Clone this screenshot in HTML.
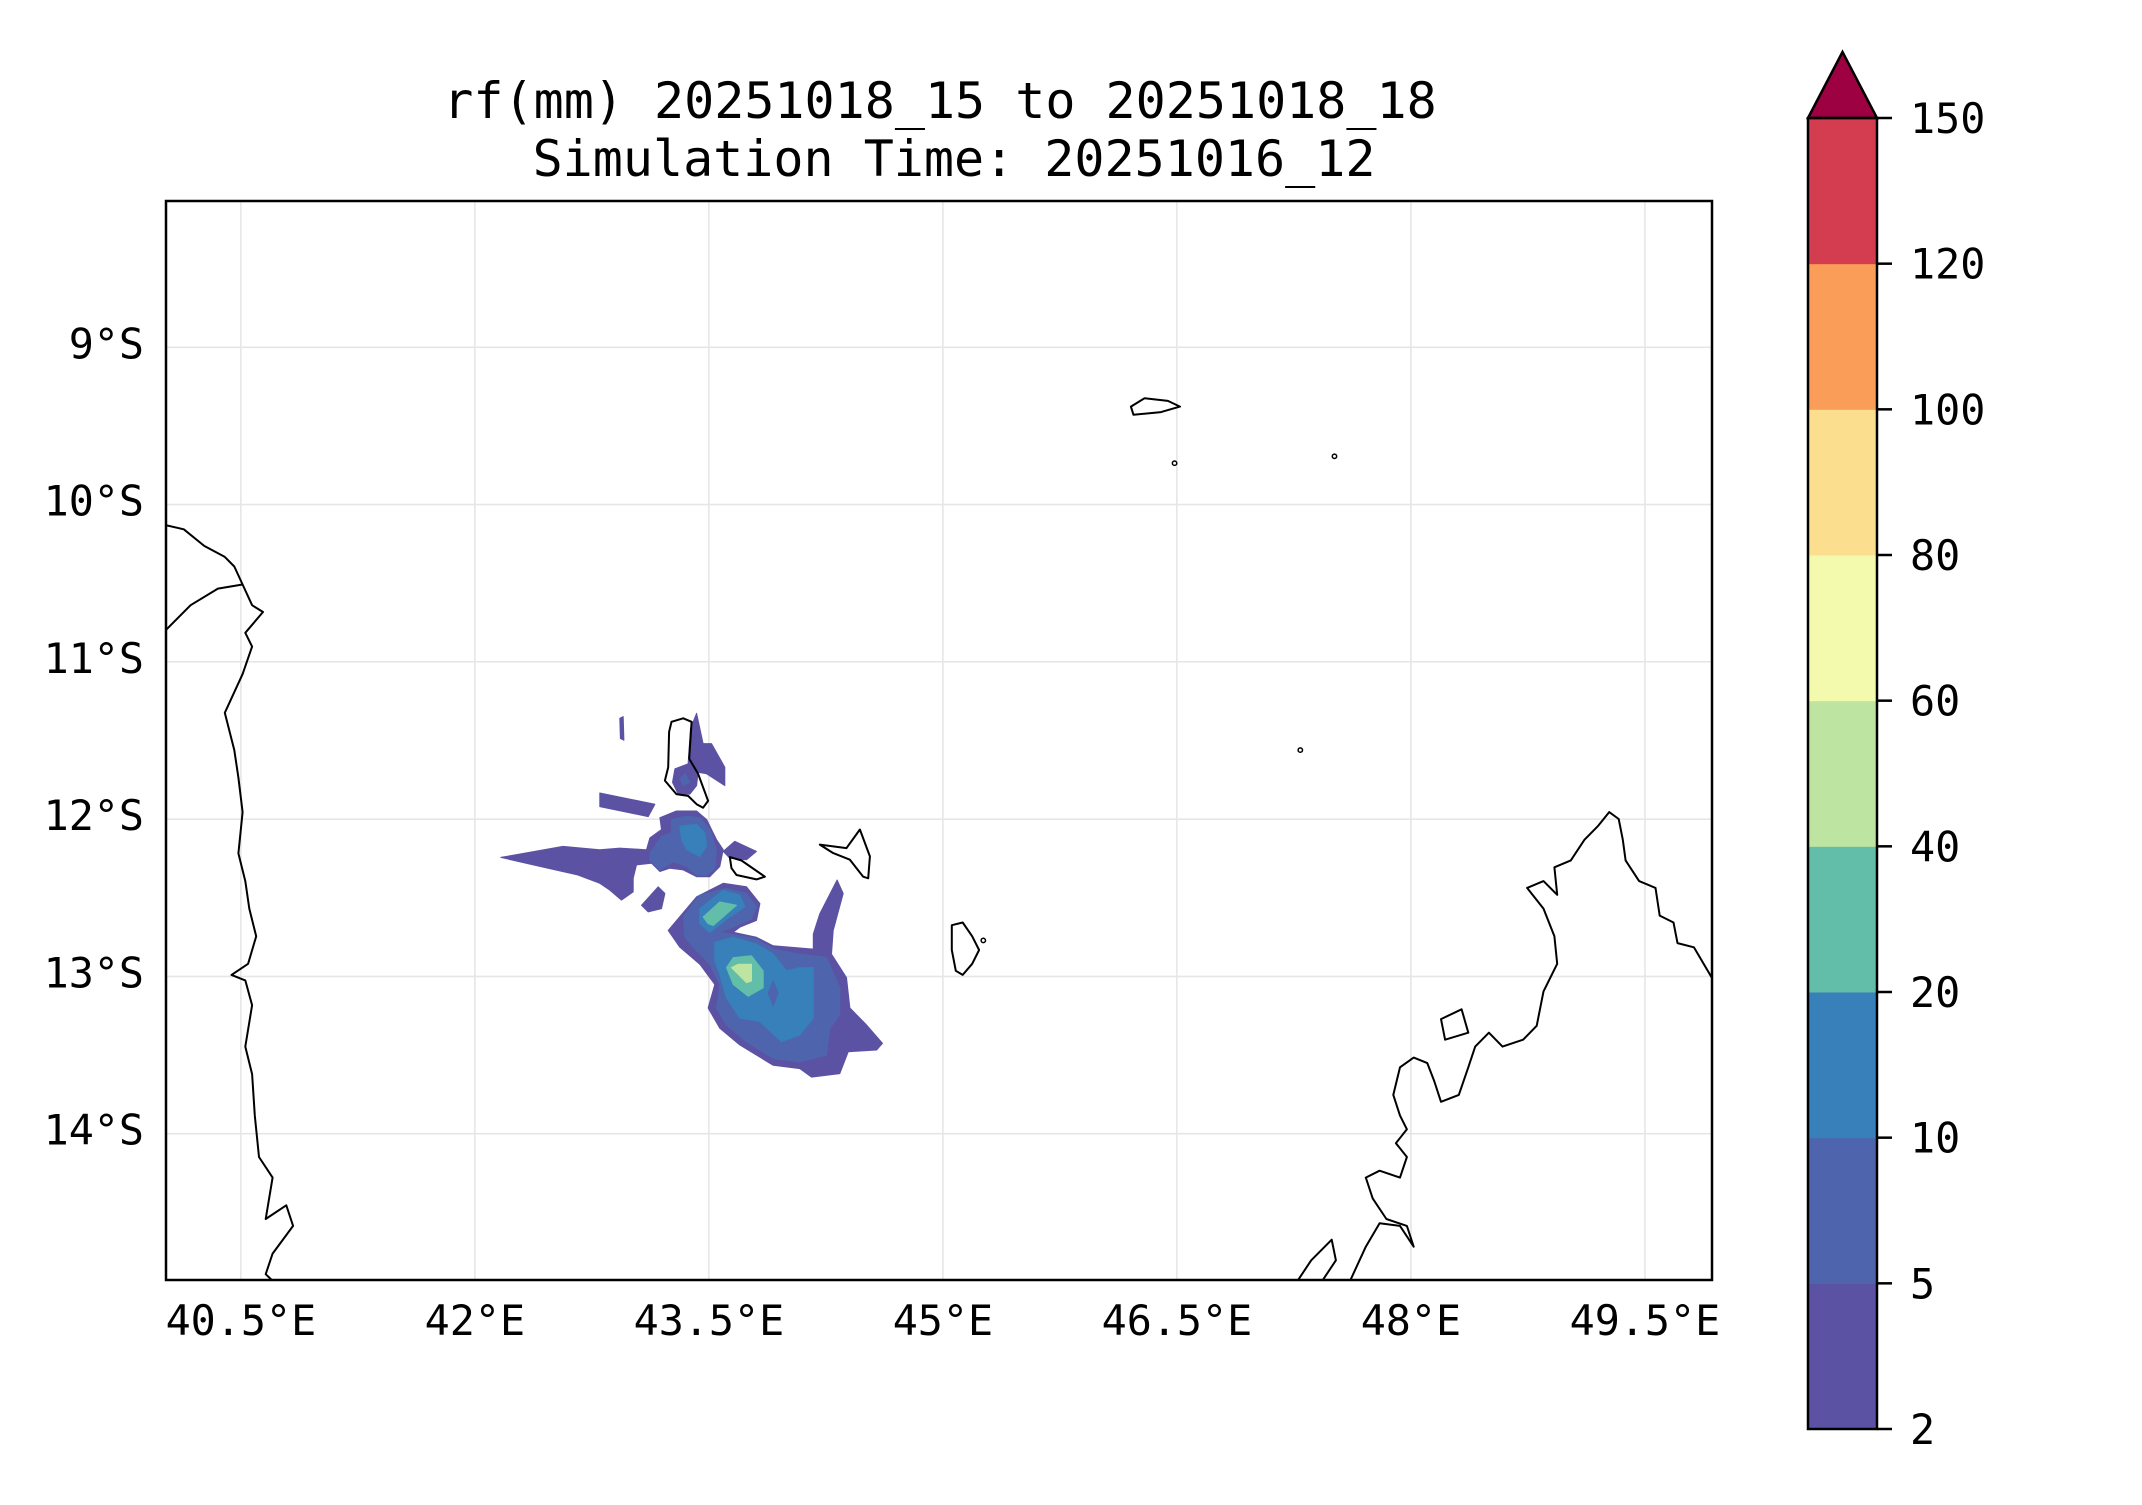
<!DOCTYPE html>
<html><head><meta charset="utf-8"><style>
html,body{margin:0;padding:0;background:#fff}
svg text{font-family:"DejaVu Sans Mono","Liberation Mono",monospace;fill:#000}
</style></head><body>
<svg id="chart" width="2142" height="1500" viewBox="0 0 2142 1500" xmlns="http://www.w3.org/2000/svg">
<defs><clipPath id="clip"><rect x="166" y="201" width="1546" height="1079"/></clipPath></defs>
<text x="940" y="118" font-size="50" text-anchor="middle">rf(mm) 20251018_15 to 20251018_18</text>
<text x="954" y="176" font-size="50" text-anchor="middle">Simulation Time: 20251016_12</text>
<g id="grid"></g>
<g id="fills" clip-path="url(#clip)"></g>
<g id="coast" clip-path="url(#clip)"></g>
<rect x="166" y="201" width="1546" height="1079" fill="none" stroke="#000" stroke-width="2.5"/>
<g id="xticks"></g>
<g id="yticks"></g>
<g id="cbar"></g>
</svg>
<script>
const lonTicks=[40.5,42,43.5,45,46.5,48,49.5];
const latTicks=[9,10,11,12,13,14];
const levels=[2,5,10,20,40,60,80,100,120,150];
const levelColors=["#5b52a3","#4e65ad","#3780b9","#62bda9","#bde4a0","#f3faad","#fcdf8e","#f99d59","#d43d4f"];
const extendColor="#9e0142";
// contour polygons [level index, [[lon,lat],...]]
const contourLevel=[0,0,0,0,0,0,0,1,1,1,2,2,2,1,3,3,4];
const contourPolys=[
[[43.239,-12.708],[43.421,-12.494],[43.592,-12.408],[43.741,-12.430],[43.827,-12.537],[43.805,-12.644],[43.698,-12.687],[43.656,-12.719],[43.805,-12.751],[43.912,-12.805],[44.169,-12.826],[44.169,-12.730],[44.211,-12.601],[44.322,-12.387],[44.361,-12.473],[44.297,-12.708],[44.286,-12.858],[44.382,-13.008],[44.404,-13.201],[44.510,-13.308],[44.613,-13.425],[44.575,-13.468],[44.393,-13.479],[44.339,-13.618],[44.158,-13.640],[44.083,-13.586],[43.912,-13.565],[43.698,-13.436],[43.570,-13.329],[43.495,-13.201],[43.538,-13.051],[43.442,-12.922],[43.314,-12.815]],
[[42.166,-12.243],[42.564,-12.173],[42.801,-12.194],[42.929,-12.184],[43.100,-12.194],[43.122,-12.119],[43.196,-12.066],[43.186,-11.991],[43.292,-11.948],[43.421,-11.948],[43.485,-12.002],[43.549,-12.130],[43.592,-12.194],[43.570,-12.301],[43.506,-12.366],[43.421,-12.366],[43.335,-12.323],[43.250,-12.312],[43.186,-12.333],[43.132,-12.280],[43.036,-12.291],[43.015,-12.376],[43.015,-12.462],[42.940,-12.515],[42.865,-12.451],[42.801,-12.408],[42.654,-12.353],[42.374,-12.291]],
[[42.801,-11.834],[43.154,-11.905],[43.111,-11.984],[42.801,-11.920]],
[[43.068,-12.548],[43.175,-12.430],[43.218,-12.473],[43.196,-12.569],[43.111,-12.590]],
[[43.592,-12.205],[43.666,-12.141],[43.805,-12.205],[43.741,-12.258],[43.634,-12.248]],
[[43.421,-11.327],[43.463,-11.520],[43.517,-11.520],[43.602,-11.670],[43.602,-11.787],[43.485,-11.712],[43.431,-11.702],[43.421,-11.787],[43.378,-11.841],[43.303,-11.841],[43.267,-11.766],[43.282,-11.680],[43.367,-11.648],[43.382,-11.423]],
[[42.929,-11.359],[42.951,-11.348],[42.955,-11.498],[42.933,-11.488]],
[[43.122,-12.216],[43.196,-12.109],[43.260,-12.087],[43.260,-12.002],[43.357,-11.980],[43.442,-11.991],[43.506,-12.066],[43.549,-12.194],[43.538,-12.312],[43.485,-12.355],[43.421,-12.355],[43.357,-12.301],[43.271,-12.269],[43.186,-12.323],[43.122,-12.259]],
[[43.314,-11.745],[43.346,-11.712],[43.378,-11.766],[43.335,-11.787]],
[[43.335,-12.622],[43.442,-12.483],[43.613,-12.440],[43.741,-12.473],[43.805,-12.558],[43.773,-12.633],[43.656,-12.687],[43.570,-12.719],[43.805,-12.762],[43.912,-12.826],[44.083,-12.858],[44.254,-12.879],[44.339,-13.072],[44.339,-13.243],[44.275,-13.329],[44.254,-13.500],[44.083,-13.543],[43.912,-13.522],[43.741,-13.415],[43.613,-13.308],[43.549,-13.201],[43.570,-13.051],[43.506,-12.922],[43.421,-12.837],[43.346,-12.751]],
[[43.314,-12.044],[43.421,-12.034],[43.474,-12.087],[43.485,-12.173],[43.442,-12.237],[43.357,-12.194],[43.325,-12.130]],
[[43.442,-12.569],[43.592,-12.451],[43.698,-12.483],[43.730,-12.558],[43.634,-12.622],[43.506,-12.719],[43.442,-12.665]],
[[43.538,-12.783],[43.656,-12.751],[43.805,-12.794],[43.912,-12.858],[43.998,-12.965],[44.083,-12.944],[44.169,-12.944],[44.169,-13.265],[44.083,-13.372],[43.965,-13.415],[43.827,-13.286],[43.698,-13.265],[43.613,-13.136],[43.570,-12.987],[43.538,-12.901]],
[[43.912,-13.029],[43.944,-13.104],[43.912,-13.190],[43.880,-13.104]],
[[43.463,-12.622],[43.570,-12.526],[43.677,-12.548],[43.528,-12.676],[43.495,-12.665]],
[[43.613,-12.944],[43.656,-12.880],[43.773,-12.869],[43.848,-12.965],[43.848,-13.072],[43.752,-13.126],[43.656,-13.051]],
[[43.645,-12.944],[43.688,-12.922],[43.773,-12.922],[43.773,-13.029],[43.741,-13.040]]
];
const coastClosed=[false,false,false,false,true,true,true,true,true,true];
const coastLines=[
[[40.020,-10.131],[40.134,-10.157],[40.265,-10.263],[40.397,-10.333],[40.458,-10.394],[40.511,-10.508],[40.572,-10.640],[40.642,-10.683],[40.528,-10.815],[40.572,-10.903],[40.511,-11.078],[40.397,-11.324],[40.458,-11.561],[40.484,-11.736],[40.511,-11.955],[40.484,-12.218],[40.528,-12.394],[40.554,-12.569],[40.598,-12.745],[40.546,-12.920],[40.440,-12.990],[40.528,-13.025],[40.572,-13.183],[40.528,-13.446],[40.572,-13.621],[40.589,-13.885],[40.616,-14.148],[40.703,-14.279],[40.659,-14.542],[40.791,-14.455],[40.835,-14.586],[40.703,-14.762],[40.659,-14.893],[40.773,-15.0]],
[[40.020,-10.797],[40.178,-10.640],[40.353,-10.534],[40.511,-10.508]],
[[47.230,-15.0],[47.361,-14.805],[47.492,-14.674],[47.519,-14.805],[47.431,-14.937]],
[[47.580,-15.0],[47.711,-14.718],[47.799,-14.569],[47.930,-14.586],[48.018,-14.718],[47.974,-14.586],[47.843,-14.542],[47.755,-14.411],[47.711,-14.279],[47.799,-14.235],[47.930,-14.279],[47.974,-14.148],[47.904,-14.060],[47.974,-13.972],[47.930,-13.885],[47.887,-13.753],[47.930,-13.578],[48.018,-13.516],[48.105,-13.551],[48.149,-13.665],[48.193,-13.797],[48.307,-13.753],[48.368,-13.578],[48.412,-13.446],[48.500,-13.358],[48.587,-13.446],[48.719,-13.402],[48.806,-13.314],[48.850,-13.095],[48.938,-12.920],[48.920,-12.745],[48.850,-12.569],[48.745,-12.437],[48.850,-12.394],[48.938,-12.481],[48.920,-12.306],[49.025,-12.262],[49.113,-12.131],[49.200,-12.043],[49.271,-11.955],[49.332,-11.999],[49.358,-12.131],[49.376,-12.262],[49.463,-12.394],[49.568,-12.437],[49.595,-12.613],[49.683,-12.657],[49.709,-12.788],[49.814,-12.815],[49.928,-13.007],[50.0,-13.05]],
[[48.193,-13.271],[48.325,-13.209],[48.368,-13.358],[48.219,-13.402]],
[[43.260,-11.381],[43.335,-11.359],[43.389,-11.381],[43.374,-11.616],[43.431,-11.712],[43.495,-11.884],[43.463,-11.927],[43.421,-11.905],[43.367,-11.852],[43.292,-11.841],[43.218,-11.755],[43.239,-11.670],[43.245,-11.445]],
[[43.634,-12.241],[43.709,-12.263],[43.859,-12.366],[43.805,-12.383],[43.677,-12.355],[43.645,-12.312]],
[[44.211,-12.162],[44.382,-12.184],[44.468,-12.066],[44.532,-12.237],[44.521,-12.376],[44.489,-12.366],[44.404,-12.258],[44.297,-12.216]],
[[45.057,-12.674],[45.127,-12.657],[45.188,-12.745],[45.232,-12.832],[45.188,-12.920],[45.127,-12.990],[45.083,-12.964],[45.057,-12.832]],
[[46.205,-9.377],[46.293,-9.324],[46.442,-9.341],[46.520,-9.377],[46.398,-9.412],[46.222,-9.429]]
];
const dotIslands=[[46.485,-9.737],[47.510,-9.693],[47.291,-11.561],[45.259,-12.771]];

const NS="http://www.w3.org/2000/svg";
const X0=166,X1=1712,Y0=201,Y1=1280;
const lon0=40.02,lon1=49.93,lat0=-8.07,lat1=-14.93;
function xs(lon){return X0+(lon-lon0)/(lon1-lon0)*(X1-X0);}
function ys(lat){return Y0+(lat-lat0)/(lat1-lat0)*(Y1-Y0);}
const CB_L=1808,CB_R=1877,CB_T=118,CB_B=1429;
function cy(i){return CB_B-i/(levels.length-1)*(CB_B-CB_T);}
function mk(tag,attrs,parent){const e=document.createElementNS(NS,tag);for(const k in attrs)e.setAttribute(k,attrs[k]);parent.appendChild(e);return e;}
function pts(p){return p.map(q=>xs(q[0]).toFixed(1)+","+ys(q[1]).toFixed(1)).join(" ");}

const grid=document.getElementById('grid');
lonTicks.forEach(v=>{const l=mk('line',{x1:xs(v),x2:xs(v),y1:Y0,y2:Y1,stroke:'#e6e6e6','stroke-width':1.6},grid);

});
latTicks.forEach(v=>{const l=mk('line',{x1:X0,x2:X1,y1:ys(-v),y2:ys(-v),stroke:'#e6e6e6','stroke-width':1.6},grid);

});

const fills=document.getElementById('fills');
contourPolys.forEach((p,i)=>{const e=mk('polygon',{points:pts(p),fill:levelColors[contourLevel[i]],stroke:levelColors[contourLevel[i]],'stroke-width':1,'stroke-linejoin':'round'},fills);

});

const coast=document.getElementById('coast');
coastLines.forEach((p,i)=>{const e=mk(coastClosed[i]?'polygon':'polyline',{points:pts(p),fill:'none',stroke:'#000','stroke-width':2,'stroke-linejoin':'round'},coast);

});
dotIslands.forEach(d=>{const e=mk('circle',{cx:xs(d[0]),cy:ys(d[1]),r:2.2,fill:'none',stroke:'#000','stroke-width':1.5},coast);

});

const xt=document.getElementById('xticks');
lonTicks.forEach(v=>{const t=mk('text',{x:xs(v),y:1335,'font-size':41.7,'text-anchor':'middle'},xt);t.textContent=v+"°E";

});
const yt=document.getElementById('yticks');
latTicks.forEach(v=>{const t=mk('text',{x:144,y:ys(-v)+11,'font-size':41.7,'text-anchor':'end'},yt);t.textContent=v+"°S";

});

const cb=document.getElementById('cbar');
levelColors.forEach((c,i)=>{const r=mk('rect',{x:CB_L,y:cy(i+1),width:CB_R-CB_L,height:cy(i)-cy(i+1)+0.5,fill:c},cb);

});
const tri=mk('polygon',{points:`${CB_L},${CB_T} ${(CB_L+CB_R)/2},${CB_T-66} ${CB_R},${CB_T}`,fill:extendColor,stroke:'#000','stroke-width':2.5,'stroke-linejoin':'miter'},cb);


const fr=mk('rect',{x:CB_L,y:CB_T,width:CB_R-CB_L,height:CB_B-CB_T,fill:'none',stroke:'#000','stroke-width':2.5},cb);


levels.forEach((v,i)=>{const l=mk('line',{x1:CB_R,x2:CB_R+15,y1:cy(i),y2:cy(i),stroke:'#000','stroke-width':2.5},cb);


const t=mk('text',{x:1910,y:cy(i)+15,'font-size':41.7},cb);t.textContent=v;

});
</script>
</body></html>
